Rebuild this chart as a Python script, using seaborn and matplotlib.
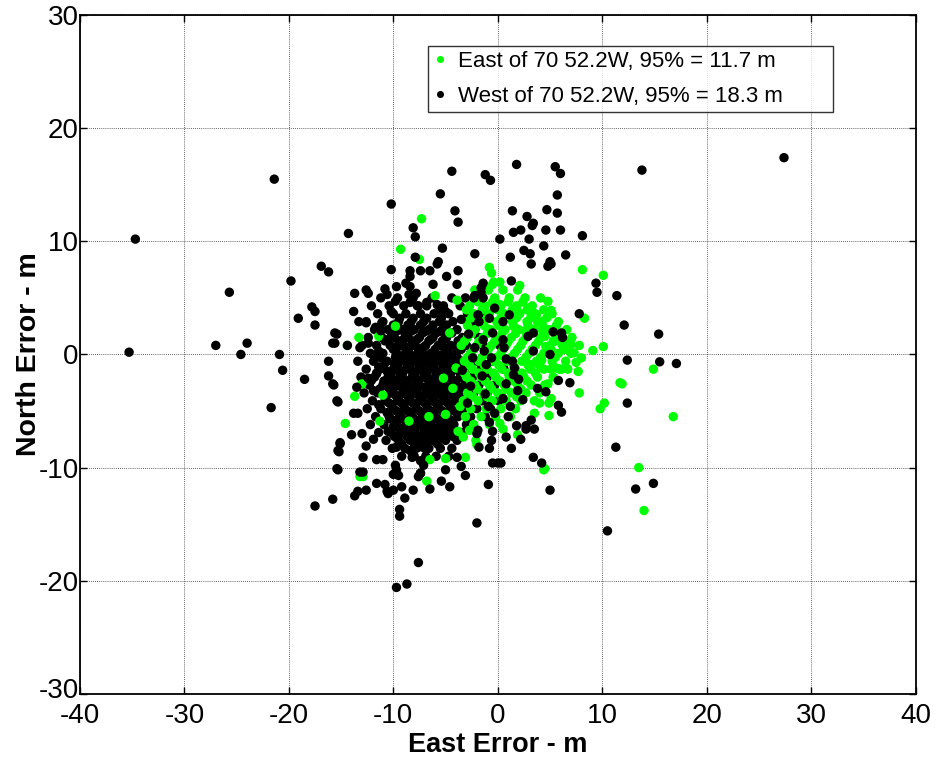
import matplotlib
matplotlib.use("Agg")
import matplotlib.pyplot as plt
import matplotlib.transforms as mtransforms
import seaborn as sns
import pandas as pd

EAST_LABEL = "East of 70 52.2W, 95% = 11.7 m"
WEST_LABEL = "West of 70 52.2W, 95% = 18.3 m"
X_TICKS = [-40, -30, -20, -10, 0, 10, 20, 30, 40]
Y_TICKS = [-30, -20, -10, 0, 10, 20, 30]

# dense core of West points (rows: north value, east values)
west_core_rows = [
    (5.0, [-11.2, -9.6, -8.1, -6.3, -4.4, -3.1]),
    (4.3, [-12.1, -10.4, -9.0, -7.7, -6.8, -5.2, -3.6]),
    (3.6, [-11.5, -10.0, -8.8, -7.4, -6.1, -4.7, -2.9, -1.5]),
    (3.2, [-9.4, -8.1, -6.8, -5.4]),
    (2.9, [-12.6, -11.0, -9.5, -8.3, -7.1, -5.6, -4.3, -2.5]),
    (2.6, [-10.0, -8.6, -7.4, -6.2, -4.9]),
    (2.2, [-11.8, -10.5, -9.2, -8.0, -6.6, -5.3, -3.9, -2.2, -0.9]),
    (2.05, [-9.7, -8.3, -6.9, -5.5]),
    (1.9, [-10.2, -8.9, -7.2, -5.9, -4.4]),
    (1.5, [-12.4, -11.1, -9.9, -8.6, -7.5, -6.2, -4.9, -3.4, -1.8]),
    (1.35, [-9.0, -7.7, -6.4, -5.1]),
    (1.2, [-10.8, -9.5, -8.2, -6.6, -5.3, -3.8]),
    (0.8, [-13.0, -11.6, -10.3, -9.0, -7.9, -6.9, -5.7, -4.5, -3.0, -1.4, 0.2]),
    (0.65, [-9.6, -8.4, -7.1, -5.2, -4.0]),
    (0.45, [-10.0, -8.8, -7.6, -6.0, -4.8, -3.5]),
    (0.1, [-12.2, -11.0, -9.7, -8.5, -7.3, -6.4, -5.1, -4.0, -2.6, -1.1]),
    (-0.1, [-9.1, -7.9, -6.8, -5.6, -4.4]),
    (-0.25, [-11.3, -9.8, -8.6, -7.4, -6.2, -5.0, -3.9, -2.8]),
    (-0.6, [-13.4, -11.9, -10.6, -9.3, -8.1, -7.0, -5.9, -4.6, -3.4, -2.0, -0.5]),
    (-0.8, [-9.9, -8.7, -7.6, -6.5, -5.3, -4.2]),
    (-0.95, [-10.9, -9.6, -8.4, -7.3, -6.1, -4.9, -3.7]),
    (-1.3, [-12.6, -11.3, -10.0, -8.8, -7.6, -6.5, -5.3, -4.2, -3.0, -1.6, 0.6]),
    (-1.5, [-10.6, -9.4, -8.2, -7.1, -5.9, -4.8, -3.7]),
    (-1.65, [-11.6, -10.2, -9.1, -7.9, -6.8, -5.6, -4.5, -3.3]),
    (-2.0, [-13.1, -11.8, -10.5, -9.4, -8.2, -7.1, -6.0, -4.9, -3.6, -2.4, -1.0]),
    (-2.2, [-10.2, -9.0, -7.9, -6.7, -5.6, -4.4, -3.2]),
    (-2.35, [-10.9, -9.7, -8.7, -7.6, -6.3, -5.2, -4.0, -2.9]),
    (-2.7, [-12.3, -11.0, -9.8, -8.6, -7.5, -6.6, -5.4, -4.3, -3.1, -1.8, -0.3]),
    (-2.9, [-10.5, -9.2, -8.1, -7.0, -5.8, -4.7, -3.6]),
    (-3.05, [-11.3, -10.0, -8.8, -7.7, -6.5, -5.3, -4.2]),
    (-3.4, [-12.8, -11.5, -10.3, -9.1, -8.0, -6.9, -5.9, -4.8, -3.6, -2.3, -1.0]),
    (-3.6, [-9.8, -8.7, -7.6, -6.5, -5.4, -4.3]),
    (-3.75, [-10.7, -9.5, -8.4, -7.2, -6.1, -5.0, -3.8]),
    (-4.1, [-12.0, -10.8, -9.6, -8.5, -7.4, -6.3, -5.2, -4.1, -2.9, -1.5, 0.1]),
    (-4.3, [-10.4, -9.2, -8.1, -7.0, -5.9, -4.8, -3.5]),
    (-4.45, [-11.4, -10.2, -9.0, -7.9, -6.8, -5.8, -4.6]),
    (-4.8, [-12.5, -11.2, -10.0, -8.9, -7.8, -6.7, -5.6, -4.5, -3.3, -2.0, -0.7]),
    (-5.0, [-9.7, -8.6, -7.5, -6.4, -5.3, -4.2]),
    (-5.15, [-10.6, -9.5, -8.4, -7.3, -6.3, -5.1, -3.9]),
    (-5.5, [-11.7, -10.4, -9.3, -8.2, -7.1, -6.0, -4.9, -3.8, -2.6, -1.2]),
    (-5.7, [-10.3, -9.1, -8.0, -6.9, -5.8, -4.7]),
    (-5.85, [-9.9, -8.7, -7.7, -6.7, -5.6, -4.4]),
    (-6.2, [-12.2, -10.9, -9.7, -8.6, -7.5, -6.4, -5.3, -4.2, -3.0]),
    (-6.4, [-10.0, -8.9, -7.8, -6.7, -5.6, -4.6]),
    (-6.55, [-9.4, -8.2, -7.1, -6.0, -5.0]),
    (-6.9, [-11.4, -10.2, -9.0, -7.9, -6.8, -5.7, -4.6, -3.4]),
    (-7.0, [-9.3, -8.2, -7.1, -6.1, -5.0]),
    (-7.25, [-9.9, -8.7, -7.6, -6.6, -5.5, -4.3]),
    (-7.6, [-10.7, -9.5, -8.4, -7.3, -6.2, -5.0, -3.9]),
    (-7.9, [-9.2, -8.0, -6.9, -5.8]),
    (-8.3, [-10.1, -8.9, -7.8, -6.6, -5.5, -4.4]),
    (-9.0, [-9.2, -8.0, -6.9, -5.9, -4.7]),
]

# dense core of East points
east_core_rows = [
    (6.4, [-0.4, 0.2]),
    (5.7, [-2.2, -0.9, 0.5, 1.9]),
    (5.0, [-1.9, -0.3, 1.1, 2.6, 4.1]),
    (4.65, [-1.9, -0.5, 1.0, 2.4]),
    (4.3, [-2.7, -1.2, 0.3, 1.8, 3.3]),
    (3.95, [-3.0, -1.5, 0.0, 1.4, 2.8, 4.4]),
    (3.6, [-2.3, -0.8, 0.6, 2.1, 3.6, 5.2]),
    (3.25, [-2.5, -1.0, 0.3, 1.8, 3.2, 4.7]),
    (2.9, [-3.0, -1.6, -0.1, 1.4, 2.8, 4.2, 5.8]),
    (2.55, [-2.9, -1.3, 0.1, 1.5, 2.9, 4.3, 5.6]),
    (2.2, [-2.2, -0.7, 0.7, 2.0, 3.5, 4.9, 6.6]),
    (1.85, [-2.5, -1.0, 0.4, 1.7, 3.1, 4.5, 6.0]),
    (1.5, [-2.9, -1.4, 0.0, 1.3, 2.7, 4.1, 5.5, 7.1]),
    (1.15, [-3.2, -1.8, -0.3, 1.0, 2.4, 3.9, 5.3, 6.7]),
    (0.8, [-3.5, -2.0, -0.6, 0.8, 2.2, 3.6, 5.0, 6.2, 7.8]),
    (0.45, [-2.3, -0.9, 0.5, 1.9, 3.3, 4.7, 6.4]),
    (0.1, [-2.6, -1.2, 0.3, 1.6, 3.0, 4.4, 5.8, 7.0]),
    (-0.25, [-2.9, -1.5, -0.1, 1.3, 2.7, 4.1, 5.5]),
    (-0.6, [-3.2, -1.8, -0.4, 0.9, 2.3, 3.7, 5.2, 6.5]),
    (-0.95, [-2.7, -1.3, 0.1, 1.5, 2.9, 4.0]),
    (-1.3, [-2.4, -1.0, 0.4, 1.7, 3.1, 4.4, 5.9]),
    (-1.65, [-3.2, -1.8, -0.4, 1.0, 2.3, 3.6]),
    (-2.0, [-3.0, -1.6, -0.2, 1.1, 2.5, 3.8, 5.3]),
    (-2.35, [-2.6, -1.2, 0.2, 1.5, 2.8]),
    (-2.7, [-2.2, -0.8, 0.6, 1.9, 3.2, 4.5]),
    (-3.05, [-2.0, -0.6, 0.8, 2.2]),
    (-3.4, [-2.9, -1.4, 0.0, 1.3, 2.7, 4.0]),
    (-3.75, [-2.4, -1.0, 0.4, 1.8]),
    (-4.1, [-3.3, -1.9, -0.5, 0.8, 2.2, 3.5]),
    (-4.8, [-2.6, -1.1, 0.3, 1.7]),
    (-5.5, [-3.1, -1.6, -0.2, 1.2]),
    (-6.2, [-2.3, -0.8]),
]

# scattered East points (east, north)
east_points = [
    (-7.3, 12.0), (-9.3, 9.3), (-7.5, 8.4), (-6.0, 5.2), (-9.8, 2.5), (-13.3, 1.5),
    (-11.4, 1.6), (-14.4, 0.8), (8.1, 7.5), (10.1, 7.0), (-0.8, 7.7), (-0.6, 7.2),
    (-0.5, 6.2), (2.1, 6.1), (4.8, 4.7), (5.1, 3.9), (8.3, 3.2), (0.2, 4.4),
    (1.8, 4.1), (2.9, 4.1), (3.2, 3.4), (3.7, 3.5), (3.8, 2.9), (1.6, 2.4),
    (2.6, 2.1), (4.3, 2.1), (4.5, 1.6), (5.6, 1.2), (6.4, 0.9), (7.0, 0.9),
    (5.1, 0.4), (4.6, 0.7), (7.3, 0.15), (8.0, -0.3), (9.1, 0.35), (10.1, 0.7),
    (7.5, -0.7), (5.6, -1.2), (6.1, -1.3), (14.9, -1.3), (11.9, -2.6), (10.2, -4.3),
    (9.8, -4.8), (16.8, -5.5), (13.5, -10.0), (14.0, -13.8), (3.2, -0.9), (4.2, -0.5),
    (5.1, -1.3), (6.7, -1.3), (7.7, -1.5), (4.8, -2.6), (7.8, -3.4), (5.1, -3.9),
    (4.9, -4.3), (4.0, -4.3), (4.9, -5.4), (11.7, -2.5), (3.5, -5.2), (1.9, -7.1),
    (0.2, -6.1), (0.5, -6.6), (-2.1, -7.6), (4.5, -10.1), (-13.7, -3.7), (-13.0, -2.6),
    (-14.6, -6.1), (-11.3, -5.9), (-11.0, -3.6), (-12.9, -10.8), (-6.5, -9.3),
    (-5.0, -9.2), (-3.1, -9.1), (-3.8, -6.8), (-3.3, -7.3), (-2.7, -6.7), (-2.0, -8.0),
    (-8.5, -5.9), (-6.6, -5.5), (-5.0, -5.3), (-6.8, -11.2), (-13.2, -10.8), (4.4, -10.2),
    (-4.3, -3.0), (-4.0, -1.2), (-4.6, 1.9), (-3.9, 4.8), (-5.2, -2.1), (-3.6, -4.6),
]

# scattered West points (east, north)
west_points = [
    (-21.4, 15.5), (-34.7, 10.2), (-35.3, 0.2), (-16.9, 7.8), (-16.2, 7.3), (-19.8, 6.5),
    (-25.7, 5.5), (-17.8, 4.2), (-17.5, 3.8), (-19.1, 3.2), (-17.5, 2.6), (-15.4, 1.8),
    (-15.6, 1.0), (-27.0, 0.8), (-24.0, 1.0), (-24.6, 0.0), (-20.9, 0.0), (-20.6, -1.4),
    (-16.2, -0.6), (-18.5, -2.2), (-16.2, -1.9), (-15.7, -2.7), (-15.3, -4.2),
    (-21.7, -4.7), (-15.1, -7.9), (-15.2, -8.6), (-15.3, -10.2), (-15.8, -12.8),
    (-17.5, -13.4),
    (27.4, 17.4), (13.8, 16.3), (9.4, 6.3), (9.5, 5.5), (11.4, 5.2), (12.1, 2.6),
    (15.4, 1.8), (12.4, -0.5), (15.5, -0.65), (17.1, -0.8), (12.4, -4.3), (11.3, -8.2),
    (14.9, -11.4), (13.2, -11.9), (10.5, -15.6),
    (-7.6, -18.4), (-9.7, -20.6), (-8.7, -20.3), (-2.0, -14.9), (5.0, -12.0),
    (-9.4, -13.7), (-9.4, -14.3), (-8.9, -12.7), (-0.9, -11.5), (-3.1, -10.7),
    (-4.6, -11.7), (-5.4, -11.2), (-6.5, -11.9), (-7.6, -10.8), (-7.4, -10.5),
    (-8.1, -12.0), (-9.2, -11.7), (-10.0, -10.6), (-9.7, -10.4), (-10.8, -11.5),
    (-10.6, -12.1), (-10.5, -12.3), (-10.0, -12.0), (-11.6, -11.4), (-12.6, -12.0),
    (-13.4, -12.1), (-13.7, -12.5), (-13.2, -10.4),
    (-14.3, 10.7), (-10.2, 13.3), (-8.1, 11.2), (-7.9, 10.4), (-7.9, 8.6), (-4.4, 16.2),
    (-5.5, 14.2), (-4.1, 12.7), (-3.8, 11.7), (-1.2, 15.9), (-0.7, 15.4), (-5.3, 9.4),
    (-2.2, 8.9), (-5.7, 8.2), (1.8, 16.8), (5.5, 16.6), (6.0, 16.0), (5.7, 14.1),
    (1.4, 12.7), (2.8, 12.2), (4.7, 12.8), (5.7, 12.5), (3.3, 11.4), (3.4, 11.6),
    (1.5, 10.8), (2.2, 11.0), (4.6, 11.0), (6.0, 11.0), (8.1, 10.5), (0.2, 10.2),
    (3.0, 10.2), (2.5, 9.2), (3.1, 8.9), (4.4, 9.6), (1.2, 8.6), (6.5, 8.8), (5.0, 8.2),
    (3.2, 8.0), (4.8, 7.8), (5.1, 8.0),
    (-5.8, 8.0), (-6.5, 7.4), (-7.4, 7.4), (-10.2, 7.5), (-8.4, 7.4), (-8.4, 6.9),
    (-4.9, 6.9), (-3.8, 7.4), (-8.8, 6.3), (-8.4, 6.0), (-9.7, 6.0), (-6.2, 6.2),
    (-13.7, 5.4), (-12.6, 5.7), (-12.4, 5.4), (-10.8, 5.8), (-10.6, 5.3), (-7.8, 5.4),
    (-8.5, 5.3), (-3.9, 6.2), (-2.3, 5.0), (-9.8, 4.7), (-8.4, 4.6), (-7.6, 4.3),
    (-6.8, 4.6), (-5.8, 4.4), (-5.5, 3.9), (-5.0, 3.8), (-13.8, 3.8), (-10.2, 3.8),
    (-13.3, 2.9), (-12.6, 2.8), (-11.1, 2.8), (-11.7, 2.4), (-11.2, 2.1), (-15.6, 1.9),
    (-15.8, 1.0), (-14.4, 0.8), (-13.2, 0.6), (-12.4, 1.0), (-10.6, 1.3), (-11.4, 0.3),
    (-11.6, -0.1), (-10.0, 0.6),
    (1.3, 6.5), (-1.4, 6.3), (-1.6, 5.9), (-1.6, 5.5), (-1.4, 5.0), (-2.2, 5.2),
    (7.8, 3.6), (-0.3, 4.1), (1.1, 3.5), (0.5, 2.9), (-0.8, 3.2), (-1.9, 3.5),
    (-1.8, 2.9), (3.4, 1.9), (2.9, 1.6), (5.3, 2.0), (6.1, 1.9), (6.2, 1.5), (5.0, 0.0),
    (3.4, 0.3), (0.5, 1.3), (0.6, 0.6), (-1.4, 1.3), (-1.3, 0.3), (-2.2, 0.6),
    (-2.4, -0.3), (-0.6, -0.3), (-1.1, -0.9), (0.8, -0.4), (1.4, -0.6), (1.6, -1.2),
    (-15.8, -2.6), (-15.4, -4.1), (-13.5, -2.9), (-13.8, -5.2), (-13.4, -5.2),
    (-11.9, -3.2), (-12.4, -2.1), (-12.1, -2.3), (-11.6, -1.7), (-11.4, -1.1),
    (-14.0, -7.1), (-13.0, -7.0), (-11.9, -7.5), (-10.5, -6.8), (-15.1, -7.8),
    (-15.3, -8.5), (-12.6, -8.1), (-12.9, -9.1), (-11.6, -9.3), (-11.0, -9.3),
    (-15.4, -10.1), (-12.9, -10.4), (-9.7, -8.2), (-9.8, -9.8), (-9.7, -10.2),
    (-9.5, -10.7), (-9.4, -6.5), (-8.4, -8.5), (-8.2, -9.1), (-8.4, -7.3), (-8.2, -7.4),
    (-7.6, -8.2), (-7.0, -8.3), (-7.4, -9.4), (-7.1, -9.8), (-7.4, -10.5), (-5.8, -7.6),
    (-6.8, -7.3), (-3.9, -9.1), (-3.5, -9.9), (-5.0, -10.2), (-2.0, -7.0),
    (5.8, -2.3), (6.9, -2.5), (3.8, -3.0), (4.6, -3.3), (5.8, -4.5), (6.1, -5.1),
    (3.2, -5.8), (2.7, -6.3), (2.7, -6.6), (3.5, -6.6), (1.8, -6.3), (0.8, -7.3),
    (2.2, -7.5), (1.3, -8.3), (-0.8, -6.0), (-0.5, -6.8), (-1.9, -6.7), (-0.6, -7.6),
    (-0.8, -8.3), (-1.8, -8.2), (-0.5, -9.6), (0.0, -9.6), (0.3, -9.6), (3.4, -9.1),
    (4.2, -9.6),
    (1.5, -1.8), (0.8, -2.6), (1.9, -3.2), (0.5, -3.9), (2.4, -4.0), (1.2, -4.6),
    (2.0, -2.2), (-0.3, -5.2), (1.0, -5.5), (-1.5, -1.9), (-2.6, -2.8), (-1.2, -3.5),
    (-2.9, -4.3), (-0.9, -4.6), (-3.4, -1.4), (-2.8, 1.8), (-3.5, 3.1), (-0.5, 1.9),
]

# ---------- assemble (draw order: West core, East, West scattered) ----------
rows = []
for n, es in west_core_rows:
    for e in es:
        rows.append((e, n, WEST_LABEL))
for n, es in east_core_rows:
    for e in es:
        rows.append((e, n, EAST_LABEL))
for e, n in east_points:
    rows.append((e, n, EAST_LABEL))
for e, n in west_points:
    rows.append((e, n, WEST_LABEL))
df = pd.DataFrame(rows, columns=["East Error", "North Error", "group"])

sns.set_style("white")
plt.rcParams["font.family"] = ["Liberation Sans", "DejaVu Sans"]
plt.rcParams["axes.unicode_minus"] = False
plt.rcParams["text.color"] = "black"
plt.rcParams["axes.labelcolor"] = "black"

fig = plt.figure(figsize=(9.41, 7.59), dpi=100)
ax = fig.add_axes([0.085, 0.086, 0.888, 0.894])

sns.scatterplot(
    data=df, x="East Error", y="North Error", hue="group",
    hue_order=[EAST_LABEL, WEST_LABEL],
    palette={EAST_LABEL: "#00ff00", WEST_LABEL: "#000000"},
    s=46, linewidth=0, edgecolor="none", ax=ax, legend=True,
)

ax.set_xlim(-40, 40)
ax.set_ylim(-30, 30)
ax.set_xticks(X_TICKS)
ax.set_yticks(Y_TICKS)
ax.tick_params(direction="in", length=5, width=1, labelsize=20, colors="black",
               top=True, right=True, bottom=True, left=True)
ax.tick_params(axis="x", pad=7)
ax.tick_params(axis="y", pad=1)
ax.grid(True, linestyle=(0, (1, 1.5)), color="black", linewidth=0.6, alpha=0.8)
ax.set_axisbelow(True)
for sp in ax.spines.values():
    sp.set_color("black")
    sp.set_linewidth(1.3)

# lift the lowest y tick label a little so it does not collide with "-40"
low_label = ax.get_yticklabels()[0]
low_label.set_transform(low_label.get_transform()
                        + mtransforms.ScaledTranslation(0, 4 / 72, fig.dpi_scale_trans))

ax.set_xlabel("East Error - m", fontsize=19.5, fontweight="bold", color="black")
ax.set_ylabel("North Error - m", fontsize=20.5, fontweight="bold", color="black")
ax.xaxis.set_label_coords(0.5, -0.0565)
ax.yaxis.set_label_coords(-0.046, 0.5)

old = ax.get_legend()
handles = old.legend_handles
labels = [t.get_text() for t in old.get_texts()]
old.remove()
leg = ax.legend(handles, labels, loc="upper left",
                bbox_to_anchor=(0.416, 0.955, 0.485, 0.0), mode="expand",
                frameon=True, fancybox=False, edgecolor="black", fontsize=16,
                handletextpad=0.45, borderpad=0.22, labelspacing=0.65,
                handlelength=0.7, markerscale=0.75, borderaxespad=0)
leg.get_frame().set_linewidth(1.0)

fig.savefig("out.png", dpi=100, facecolor="white")
